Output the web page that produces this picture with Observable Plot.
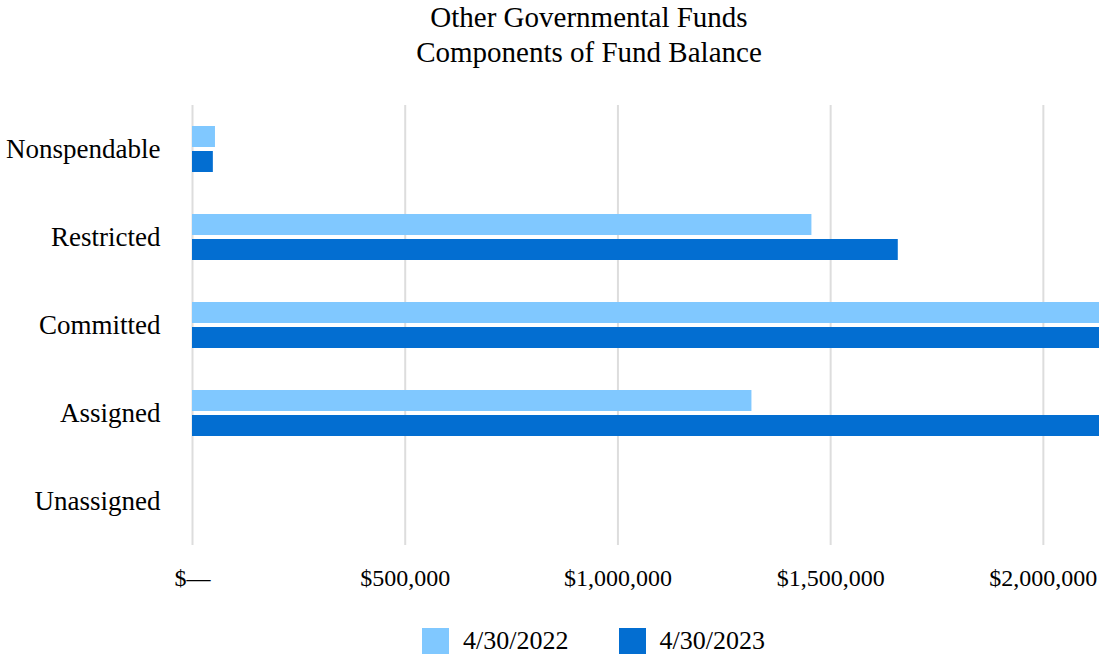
<!DOCTYPE html>
<html>
<head>
<meta charset="utf-8">
<script src="https://cdn.jsdelivr.net/npm/d3@7"></script>
<script src="https://cdn.jsdelivr.net/npm/@observablehq/plot@0.6"></script>
<style>
  html, body { margin: 0; padding: 0; background: #fff; overflow: hidden; }
  body { width: 1099px; height: 655px; font-family: "Liberation Serif", "Times New Roman", serif; color: #000; }
  #title { box-sizing: border-box; width: 1099px; padding-left: 79px; padding-top: 0px; height: 80px; text-align: center; font-size: 29px; line-height: 35px; }
  #legend { box-sizing: border-box; width: 1099px; padding-left: 88px; display: flex; justify-content: center; align-items: center; padding-top: 16px; font-size: 26px; }
  .item { display: flex; align-items: center; }
  .sw { width: 27px; height: 26px; margin-right: 14px; }
  .item + .item { margin-left: 50px; }
</style>
</head>
<body>
<div id="title"><div>Other Governmental Funds</div><div>Components of Fund Balance</div></div>
<div id="chart"></div>
<div id="legend"></div>
<script>
const categories = ["Nonspendable", "Restricted", "Committed", "Assigned", "Unassigned"];
const seriesNames = ["4/30/2022", "4/30/2023"];
const values2022 = [54000, 1456000, 2450000, 1315000, 0];
const values2023 = [49000, 1659000, 2600000, 2350000, 0];
const tickValues = [0, 500000, 1000000, 1500000, 2000000];
const colors = ["#80c8ff", "#036ed1"];

const data = [];
categories.forEach((c, i) => {
  data.push({category: c, series: seriesNames[0], value: values2022[i]});
  data.push({category: c, series: seriesNames[1], value: values2023[i]});
});

const fmt = d => d === 0 ? "$\u2014" : "$" + d3.format(",")(d);

const chart = Plot.plot({
  width: 1099,
  height: 530,
  marginTop: 25,
  marginBottom: 65,
  marginLeft: 192,
  marginRight: 0,
  style: {fontFamily: "'Liberation Serif', 'Times New Roman', serif", color: "#000", background: "#fff"},
  x: {domain: [0, 2132000]},
  fy: {domain: categories, padding: 0},
  y: {domain: seriesNames, paddingInner: 0.154, paddingOuter: 0.77, axis: null},
  color: {domain: seriesNames, range: colors},
  marks: [
    Plot.gridX(tickValues, {stroke: "#dddddd", strokeOpacity: 1, strokeWidth: 2}),
    Plot.barX(data, {fy: "category", y: "series", x: "value", fill: "series", insetTop: 0, insetBottom: 0, clip: true}),
    Plot.axisX(tickValues, {tickSize: 0, tickPadding: 23, fontSize: 24, tickFormat: fmt, label: null}),
    Plot.axisFy({anchor: "left", tickSize: 0, tickPadding: 32, fontSize: 27, label: null})
  ]
});
document.getElementById("chart").appendChild(chart);

const legend = document.getElementById("legend");
seriesNames.forEach((s, i) => {
  const item = document.createElement("div");
  item.className = "item";
  const sw = document.createElement("div");
  sw.className = "sw";
  sw.style.background = colors[i];
  const t = document.createElement("span");
  t.textContent = s;
  item.appendChild(sw);
  item.appendChild(t);
  legend.appendChild(item);
});
</script>
</body>
</html>
